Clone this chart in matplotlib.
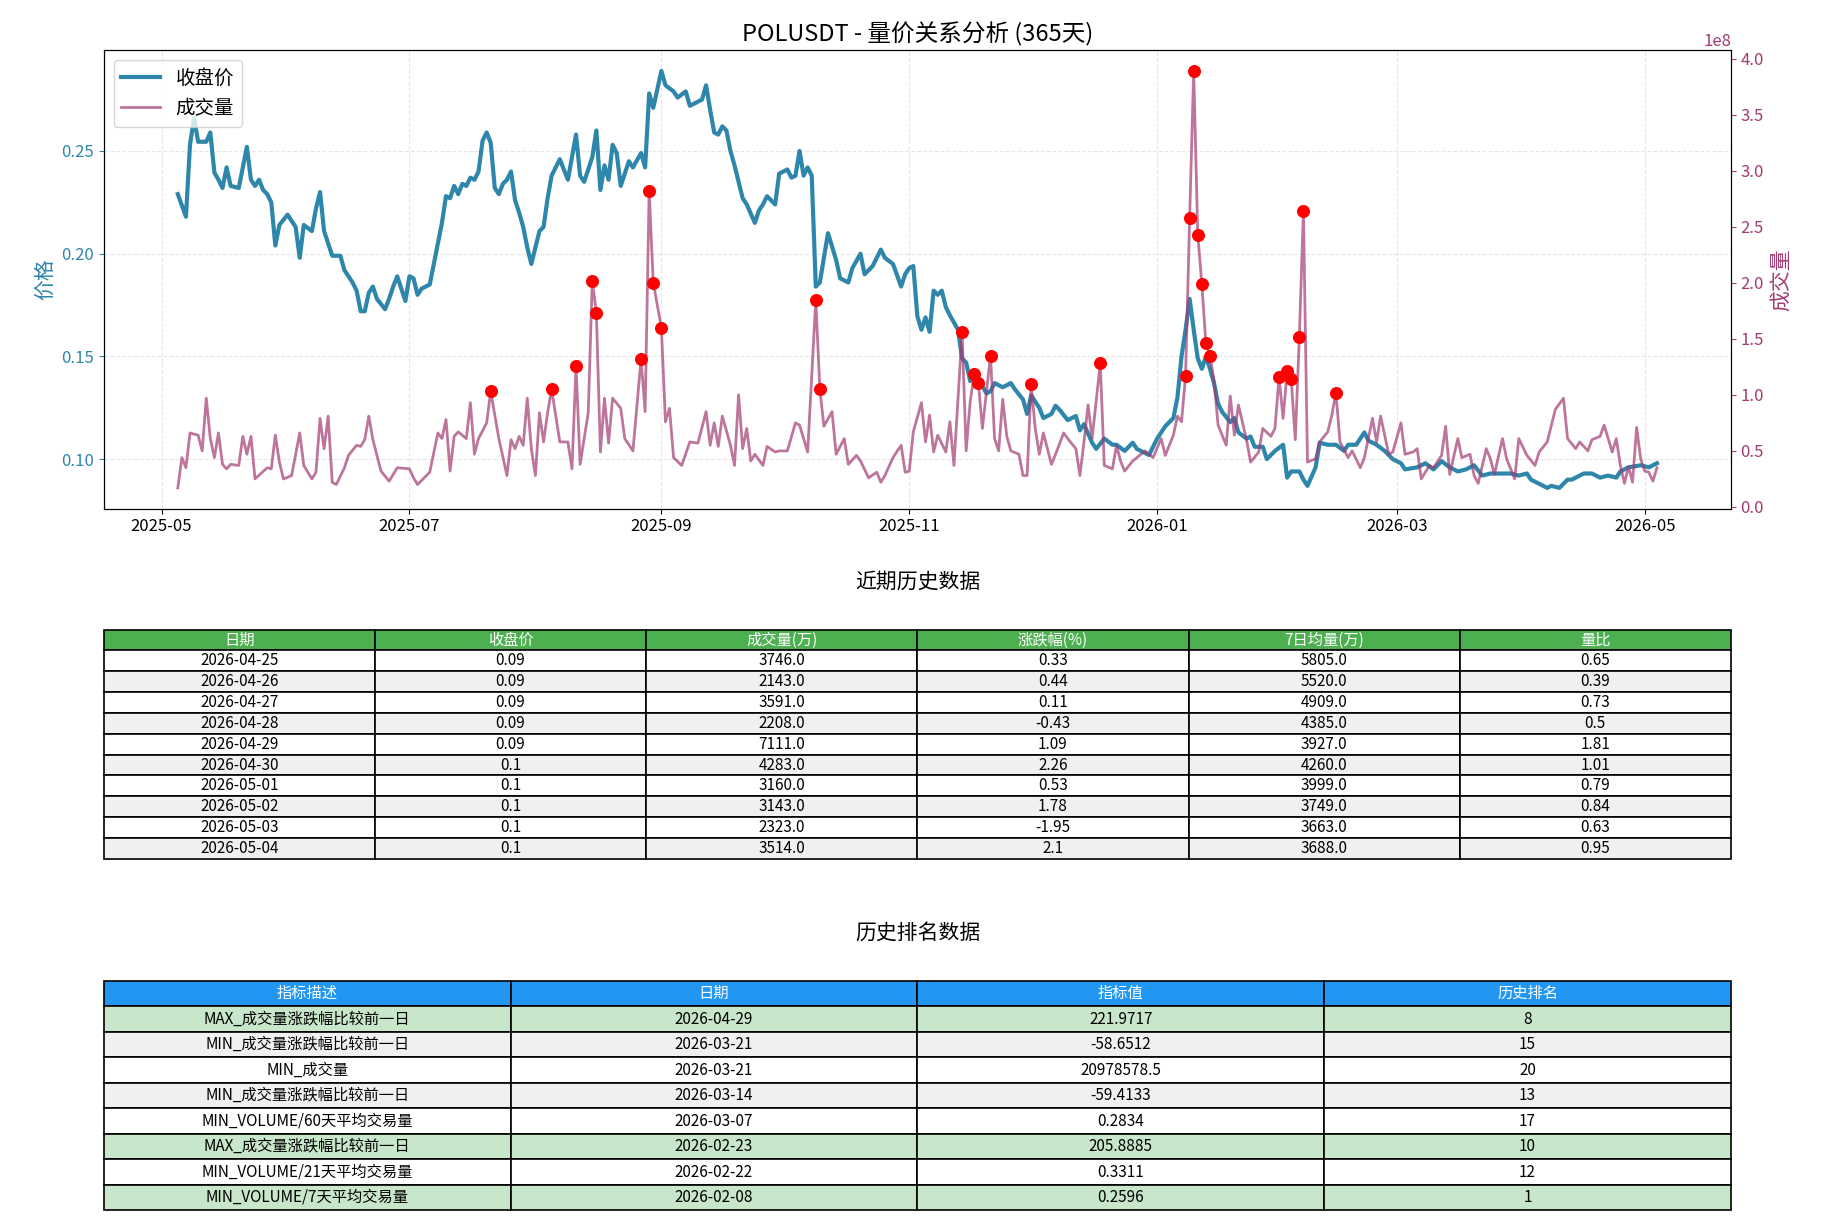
import matplotlib
matplotlib.use("Agg")
import matplotlib.pyplot as plt
import matplotlib.dates as mdates
from matplotlib.ticker import MultipleLocator
import pandas as pd

plt.rcParams['font.family'] = ['Noto Sans CJK SC', 'DejaVu Sans']
plt.rcParams['axes.unicode_minus'] = False

price_pts = """2025-05-05 .229|2025-05-07 .218|2025-05-08 .253|2025-05-09 .266|2025-05-10 .2545|2025-05-12 .2545|2025-05-13 .259|2025-05-14 .2395|2025-05-15 .236|2025-05-16 .232|2025-05-17 .242|2025-05-18 .233|2025-05-20 .232|2025-05-22 .252|2025-05-23 .236|2025-05-24 .233|2025-05-25 .236|2025-05-26 .231|2025-05-27 .229|2025-05-28 .225|2025-05-29 .204|2025-05-30 .214|2025-06-01 .219|2025-06-03 .213|2025-06-04 .198|2025-06-05 .214|2025-06-07 .211|2025-06-08 .222|2025-06-09 .23|2025-06-10 .211|2025-06-12 .199|2025-06-14 .199|2025-06-15 .192|2025-06-17 .186|2025-06-18 .182|2025-06-19 .172|2025-06-20 .172|2025-06-21 .181|2025-06-22 .184|2025-06-23 .178|2025-06-25 .173|2025-06-26 .178|2025-06-27 .184|2025-06-28 .189|2025-06-30 .177|2025-07-01 .189|2025-07-02 .188|2025-07-03 .18|2025-07-04 .183|2025-07-06 .185|2025-07-07 .195|2025-07-09 .215|2025-07-10 .228|2025-07-11 .227|2025-07-12 .233|2025-07-13 .229|2025-07-14 .234|2025-07-15 .233|2025-07-16 .237|2025-07-17 .236|2025-07-18 .24|2025-07-19 .255|2025-07-20 .259|2025-07-21 .254|2025-07-22 .232|2025-07-23 .229|2025-07-24 .234|2025-07-25 .236|2025-07-26 .24|2025-07-27 .226|2025-07-28 .22|2025-07-29 .213|2025-07-30 .203|2025-07-31 .195|2025-08-01 .203|2025-08-02 .211|2025-08-03 .213|2025-08-04 .227|2025-08-05 .238|2025-08-07 .246|2025-08-08 .241|2025-08-09 .236|2025-08-11 .258|2025-08-12 .238|2025-08-13 .235|2025-08-15 .247|2025-08-16 .26|2025-08-17 .231|2025-08-18 .243|2025-08-19 .236|2025-08-20 .253|2025-08-21 .249|2025-08-22 .233|2025-08-24 .245|2025-08-25 .242|2025-08-27 .249|2025-08-28 .242|2025-08-29 .278|2025-08-30 .271|2025-09-01 .289|2025-09-02 .282|2025-09-04 .279|2025-09-05 .276|2025-09-07 .279|2025-09-08 .272|2025-09-10 .274|2025-09-11 .275|2025-09-12 .282|2025-09-13 .27|2025-09-14 .259|2025-09-15 .258|2025-09-16 .262|2025-09-17 .26|2025-09-18 .25|2025-09-19 .243|2025-09-21 .227|2025-09-22 .224|2025-09-24 .215|2025-09-25 .221|2025-09-26 .224|2025-09-27 .228|2025-09-29 .224|2025-09-30 .239|2025-10-02 .241|2025-10-03 .237|2025-10-04 .238|2025-10-05 .25|2025-10-06 .238|2025-10-07 .242|2025-10-08 .238|2025-10-09 .184|2025-10-10 .186|2025-10-12 .21|2025-10-14 .197|2025-10-15 .188|2025-10-17 .186|2025-10-18 .193|2025-10-20 .2|2025-10-21 .19|2025-10-23 .194|2025-10-25 .202|2025-10-26 .198|2025-10-28 .195|2025-10-30 .184|2025-10-31 .19|2025-11-01 .193|2025-11-02 .194|2025-11-03 .1695|2025-11-04 .163|2025-11-05 .169|2025-11-06 .162|2025-11-07 .182|2025-11-08 .18|2025-11-09 .182|2025-11-10 .174|2025-11-11 .17|2025-11-13 .163|2025-11-14 .149|2025-11-15 .147|2025-11-16 .138|2025-11-17 .143|2025-11-18 .139|2025-11-20 .132|2025-11-21 .133|2025-11-22 .137|2025-11-24 .135|2025-11-26 .137|2025-11-27 .134|2025-11-29 .129|2025-11-30 .122|2025-12-01 .131|2025-12-03 .125|2025-12-04 .12|2025-12-06 .122|2025-12-07 .126|2025-12-08 .124|2025-12-10 .119|2025-12-12 .121|2025-12-13 .114|2025-12-14 .117|2025-12-16 .108|2025-12-17 .105|2025-12-19 .11|2025-12-21 .107|2025-12-22 .107|2025-12-24 .104|2025-12-26 .108|2025-12-27 .105|2025-12-30 .102|2026-01-01 .11|2026-01-03 .116|2026-01-05 .12|2026-01-06 .13|2026-01-07 .15|2026-01-08 .163|2026-01-09 .178|2026-01-10 .163|2026-01-11 .149|2026-01-12 .144|2026-01-13 .15|2026-01-14 .144|2026-01-15 .137|2026-01-16 .127|2026-01-17 .123|2026-01-19 .118|2026-01-20 .12|2026-01-21 .113|2026-01-23 .11|2026-01-24 .111|2026-01-25 .106|2026-01-27 .106|2026-01-28 .1|2026-01-30 .104|2026-02-01 .107|2026-02-02 .091|2026-02-03 .094|2026-02-05 .094|2026-02-06 .09|2026-02-07 .087|2026-02-09 .096|2026-02-10 .108|2026-02-12 .107|2026-02-14 .107|2026-02-16 .104|2026-02-17 .107|2026-02-19 .107|2026-02-21 .113|2026-02-22 .109|2026-02-24 .107|2026-02-26 .104|2026-02-28 .1|2026-03-02 .098|2026-03-03 .095|2026-03-06 .096|2026-03-08 .098|2026-03-10 .095|2026-03-12 .099|2026-03-14 .096|2026-03-16 .094|2026-03-18 .095|2026-03-20 .097|2026-03-22 .092|2026-03-24 .093|2026-03-26 .093|2026-03-29 .093|2026-03-31 .092|2026-04-02 .093|2026-04-03 .09|2026-04-05 .088|2026-04-07 .086|2026-04-08 .087|2026-04-10 .086|2026-04-12 .09|2026-04-13 .09|2026-04-16 .093|2026-04-18 .093|2026-04-20 .091|2026-04-22 .092|2026-04-24 .091|2026-04-25 .094|2026-04-27 .096|2026-04-30 .097|2026-05-02 .096|2026-05-04 .098"""

volume_pts = """2025-05-05 .17|2025-05-06 .44|2025-05-07 .35|2025-05-08 .66|2025-05-10 .64|2025-05-11 .5|2025-05-12 .97|2025-05-13 .61|2025-05-14 .44|2025-05-15 .66|2025-05-16 .38|2025-05-17 .34|2025-05-18 .38|2025-05-20 .37|2025-05-21 .63|2025-05-22 .47|2025-05-23 .63|2025-05-24 .25|2025-05-27 .35|2025-05-28 .34|2025-05-29 .64|2025-05-30 .4|2025-05-31 .25|2025-06-02 .28|2025-06-04 .66|2025-06-05 .37|2025-06-07 .25|2025-06-08 .31|2025-06-09 .79|2025-06-10 .52|2025-06-11 .81|2025-06-12 .22|2025-06-13 .2|2025-06-15 .35|2025-06-16 .46|2025-06-18 .55|2025-06-19 .54|2025-06-20 .6|2025-06-21 .81|2025-06-22 .6|2025-06-24 .32|2025-06-26 .23|2025-06-28 .35|2025-07-01 .34|2025-07-02 .26|2025-07-03 .2|2025-07-06 .31|2025-07-08 .66|2025-07-09 .61|2025-07-10 .78|2025-07-11 .32|2025-07-12 .63|2025-07-13 .67|2025-07-15 .61|2025-07-16 .93|2025-07-17 .47|2025-07-18 .61|2025-07-20 .75|2025-07-21 1.03|2025-07-23 .61|2025-07-25 .28|2025-07-26 .6|2025-07-27 .52|2025-07-28 .63|2025-07-29 .55|2025-07-30 .97|2025-07-31 .52|2025-08-01 .28|2025-08-02 .84|2025-08-03 .58|2025-08-04 .84|2025-08-05 1.05|2025-08-07 .58|2025-08-09 .58|2025-08-10 .34|2025-08-11 1.26|2025-08-12 .38|2025-08-14 .84|2025-08-15 2.02|2025-08-16 1.73|2025-08-17 .49|2025-08-18 .97|2025-08-19 .57|2025-08-20 .97|2025-08-22 .88|2025-08-23 .61|2025-08-25 .5|2025-08-27 1.32|2025-08-28 .85|2025-08-29 2.82|2025-08-30 2.0|2025-09-01 1.6|2025-09-02 .76|2025-09-03 .88|2025-09-04 .44|2025-09-06 .37|2025-09-08 .58|2025-09-10 .57|2025-09-12 .85|2025-09-13 .55|2025-09-14 .75|2025-09-15 .54|2025-09-16 .81|2025-09-18 .55|2025-09-19 .37|2025-09-20 1.0|2025-09-21 .52|2025-09-22 .7|2025-09-23 .41|2025-09-24 .47|2025-09-26 .37|2025-09-27 .54|2025-09-29 .49|2025-09-30 .5|2025-10-02 .5|2025-10-04 .75|2025-10-05 .73|2025-10-07 .49|2025-10-09 1.85|2025-10-10 1.05|2025-10-11 .72|2025-10-13 .85|2025-10-14 .47|2025-10-16 .61|2025-10-17 .38|2025-10-19 .46|2025-10-20 .41|2025-10-22 .26|2025-10-24 .31|2025-10-25 .22|2025-10-26 .28|2025-10-28 .44|2025-10-30 .55|2025-10-31 .31|2025-11-01 .32|2025-11-02 .67|2025-11-04 .93|2025-11-05 .58|2025-11-06 .82|2025-11-07 .49|2025-11-08 .64|2025-11-10 .49|2025-11-11 .76|2025-11-12 .37|2025-11-14 1.56|2025-11-15 .5|2025-11-16 .94|2025-11-17 1.19|2025-11-18 1.11|2025-11-19 .7|2025-11-21 1.35|2025-11-22 .61|2025-11-23 .5|2025-11-24 .96|2025-11-25 .63|2025-11-26 .5|2025-11-28 .47|2025-11-29 .28|2025-11-30 .28|2025-12-01 1.1|2025-12-02 .7|2025-12-03 .47|2025-12-04 .66|2025-12-06 .38|2025-12-07 .47|2025-12-09 .66|2025-12-10 .61|2025-12-12 .52|2025-12-13 .28|2025-12-14 .58|2025-12-15 .91|2025-12-16 .61|2025-12-18 1.28|2025-12-19 .37|2025-12-21 .34|2025-12-22 .55|2025-12-23 .41|2025-12-24 .32|2025-12-26 .41|2025-12-28 .47|2025-12-29 .5|2025-12-31 .44|2026-01-02 .61|2026-01-03 .46|2026-01-05 .64|2026-01-06 .81|2026-01-07 .76|2026-01-08 1.17|2026-01-09 2.58|2026-01-10 3.89|2026-01-11 2.43|2026-01-12 1.99|2026-01-13 1.46|2026-01-14 1.35|2026-01-15 1.13|2026-01-16 .73|2026-01-18 .55|2026-01-19 .99|2026-01-20 .64|2026-01-21 .91|2026-01-23 .6|2026-01-24 .4|2026-01-26 .49|2026-01-27 .7|2026-01-29 .63|2026-01-30 .7|2026-01-31 1.16|2026-02-01 .79|2026-02-02 1.21|2026-02-03 1.14|2026-02-04 .6|2026-02-05 1.52|2026-02-06 2.64|2026-02-07 .4|2026-02-09 .43|2026-02-10 .58|2026-02-12 .67|2026-02-13 .82|2026-02-14 1.02|2026-02-15 .58|2026-02-17 .44|2026-02-18 .5|2026-02-20 .35|2026-02-21 .44|2026-02-23 .79|2026-02-24 .58|2026-02-25 .81|2026-02-27 .47|2026-02-28 .49|2026-03-02 .75|2026-03-03 .47|2026-03-05 .49|2026-03-06 .52|2026-03-07 .25|2026-03-09 .37|2026-03-10 .35|2026-03-12 .46|2026-03-13 .72|2026-03-14 .29|2026-03-16 .61|2026-03-17 .44|2026-03-19 .47|2026-03-20 .28|2026-03-21 .21|2026-03-23 .52|2026-03-24 .43|2026-03-25 .29|2026-03-27 .61|2026-03-28 .43|2026-03-30 .25|2026-03-31 .61|2026-04-02 .46|2026-04-04 .37|2026-04-05 .49|2026-04-07 .58|2026-04-09 .87|2026-04-11 .97|2026-04-12 .61|2026-04-14 .52|2026-04-15 .58|2026-04-17 .5|2026-04-18 .6|2026-04-20 .63|2026-04-21 .73|2026-04-23 .49|2026-04-24 .61|2026-04-25 .37|2026-04-26 .21|2026-04-27 .36|2026-04-28 .22|2026-04-29 .71|2026-04-30 .43|2026-05-01 .32|2026-05-02 .31|2026-05-03 .23|2026-05-04 .35"""

anomaly_dates = ["2025-07-21", "2025-08-05", "2025-08-11", "2025-08-15", "2025-08-16", "2025-08-27",
                 "2025-08-29", "2025-08-30", "2025-09-01", "2025-10-09", "2025-10-10", "2025-11-14",
                 "2025-11-17", "2025-11-18", "2025-11-21", "2025-12-01", "2025-12-18", "2026-01-08",
                 "2026-01-09", "2026-01-10", "2026-01-11", "2026-01-12", "2026-01-13", "2026-01-14",
                 "2026-01-31", "2026-02-02", "2026-02-03", "2026-02-05", "2026-02-06", "2026-02-14"]

t1_cols = ["日期", "收盘价", "成交量(万)", "涨跌幅(%)", "7日均量(万)", "量比"]
t1_dates = ["2026-04-25", "2026-04-26", "2026-04-27", "2026-04-28", "2026-04-29",
            "2026-04-30", "2026-05-01", "2026-05-02", "2026-05-03", "2026-05-04"]
t1_close = ["0.09", "0.09", "0.09", "0.09", "0.09", "0.1", "0.1", "0.1", "0.1", "0.1"]
t1_vol = ["3746.0", "2143.0", "3591.0", "2208.0", "7111.0", "4283.0", "3160.0", "3143.0", "2323.0", "3514.0"]
t1_chg = ["0.33", "0.44", "0.11", "-0.43", "1.09", "2.26", "0.53", "1.78", "-1.95", "2.1"]
t1_ma7 = ["5805.0", "5520.0", "4909.0", "4385.0", "3927.0", "4260.0", "3999.0", "3749.0", "3663.0", "3688.0"]
t1_ratio = ["0.65", "0.39", "0.73", "0.5", "1.81", "1.01", "0.79", "0.84", "0.63", "0.95"]

t2_cols = ["指标描述", "日期", "指标值", "历史排名"]
t2_desc = ["MAX_成交量涨跌幅比较前一日", "MIN_成交量涨跌幅比较前一日", "MIN_成交量", "MIN_成交量涨跌幅比较前一日",
           "MIN_VOLUME/60天平均交易量", "MAX_成交量涨跌幅比较前一日", "MIN_VOLUME/21天平均交易量", "MIN_VOLUME/7天平均交易量"]
t2_date = ["2026-04-29", "2026-03-21", "2026-03-21", "2026-03-14", "2026-03-07", "2026-02-23", "2026-02-22", "2026-02-08"]
t2_value = ["221.9717", "-58.6512", "20978578.5", "-59.4133", "0.2834", "205.8885", "0.3311", "0.2596"]
t2_rank = ["8", "15", "20", "13", "17", "10", "12", "1"]

def parse(s):
    d, v = zip(*[p.split() for p in s.split("|")])
    return pd.to_datetime(list(d)), [float(x) for x in v]

p_dates, p_vals = parse(price_pts)
v_dates, v_vals = parse(volume_pts)
v_vals = [x * 1e8 for x in v_vals]
vmap = dict(zip(v_dates, v_vals))
a_dates = pd.to_datetime(anomaly_dates)
a_vals = [vmap[d] for d in a_dates]

PC, VC = "#2E86AB", "#A23B72"
fig = plt.figure(figsize=(18.22, 12.2), dpi=100)
ax = fig.add_axes([0.057, 0.583, 0.893, 0.376])
l1, = ax.plot(p_dates, p_vals, color=PC, lw=3, label="收盘价", zorder=3)
ax.set_ylabel("价格", color=PC, fontsize=15)
ax.yaxis.set_major_locator(MultipleLocator(0.05))
ax.tick_params(axis='y', colors=PC, labelsize=12)
ax.tick_params(axis='x', labelsize=12)
ax.grid(True, ls='--', alpha=0.3)
ax.xaxis.set_major_locator(mdates.MonthLocator(bymonth=[1, 3, 5, 7, 9, 11]))
ax.xaxis.set_major_formatter(mdates.DateFormatter("%Y-%m"))
ax2 = ax.twinx()
l2, = ax2.plot(v_dates, v_vals, color=VC, lw=2, alpha=0.7, label="成交量")
ax2.scatter(a_dates, a_vals, color="red", s=70, zorder=5)
ax2.set_ylabel("成交量", color=VC, fontsize=15)
ax2.tick_params(axis='y', colors=VC, labelsize=12)
ax2.yaxis.get_offset_text().set_color(VC)
ax2.yaxis.get_offset_text().set_fontsize(12)
ax.legend(handles=[l1, l2], loc="upper left", fontsize=14)
ax.set_title("POLUSDT - 量价关系分析 (365天)", fontsize=17)

def make_table(rect, title, cols, rows, head_color, row_colors):
    tax = fig.add_axes(rect)
    tax.axis('off')
    tax.set_title(title, fontsize=15, pad=30)
    tb = tax.table(cellText=rows, colLabels=cols, cellLoc='center', loc='center', bbox=[0, 0, 1, 1])
    tb.auto_set_font_size(False)
    tb.set_fontsize(11)
    for (r, c), cell in tb.get_celld().items():
        cell.set_linewidth(1.2)
        if r == 0:
            cell.set_facecolor(head_color)
            cell.get_text().set_color("white")
        else:
            cell.set_facecolor(row_colors[r - 1])
    return tb

rows1 = [list(r) for r in zip(t1_dates, t1_close, t1_vol, t1_chg, t1_ma7, t1_ratio)]
make_table([0.057, 0.296, 0.893, 0.188], "近期历史数据", t1_cols, rows1, "#4CAF50",
           ["white" if i % 2 == 0 else "#f0f0f0" for i in range(10)])
rows2 = [list(r) for r in zip(t2_desc, t2_date, t2_value, t2_rank)]
colors2 = ["#C8E6C9" if int(rk) <= 10 else ("white" if i % 2 == 0 else "#f0f0f0") for i, rk in enumerate(t2_rank)]
make_table([0.057, 0.008, 0.893, 0.188], "历史排名数据", t2_cols, rows2, "#2196F3", colors2)

fig.savefig("out.png", dpi=100)
